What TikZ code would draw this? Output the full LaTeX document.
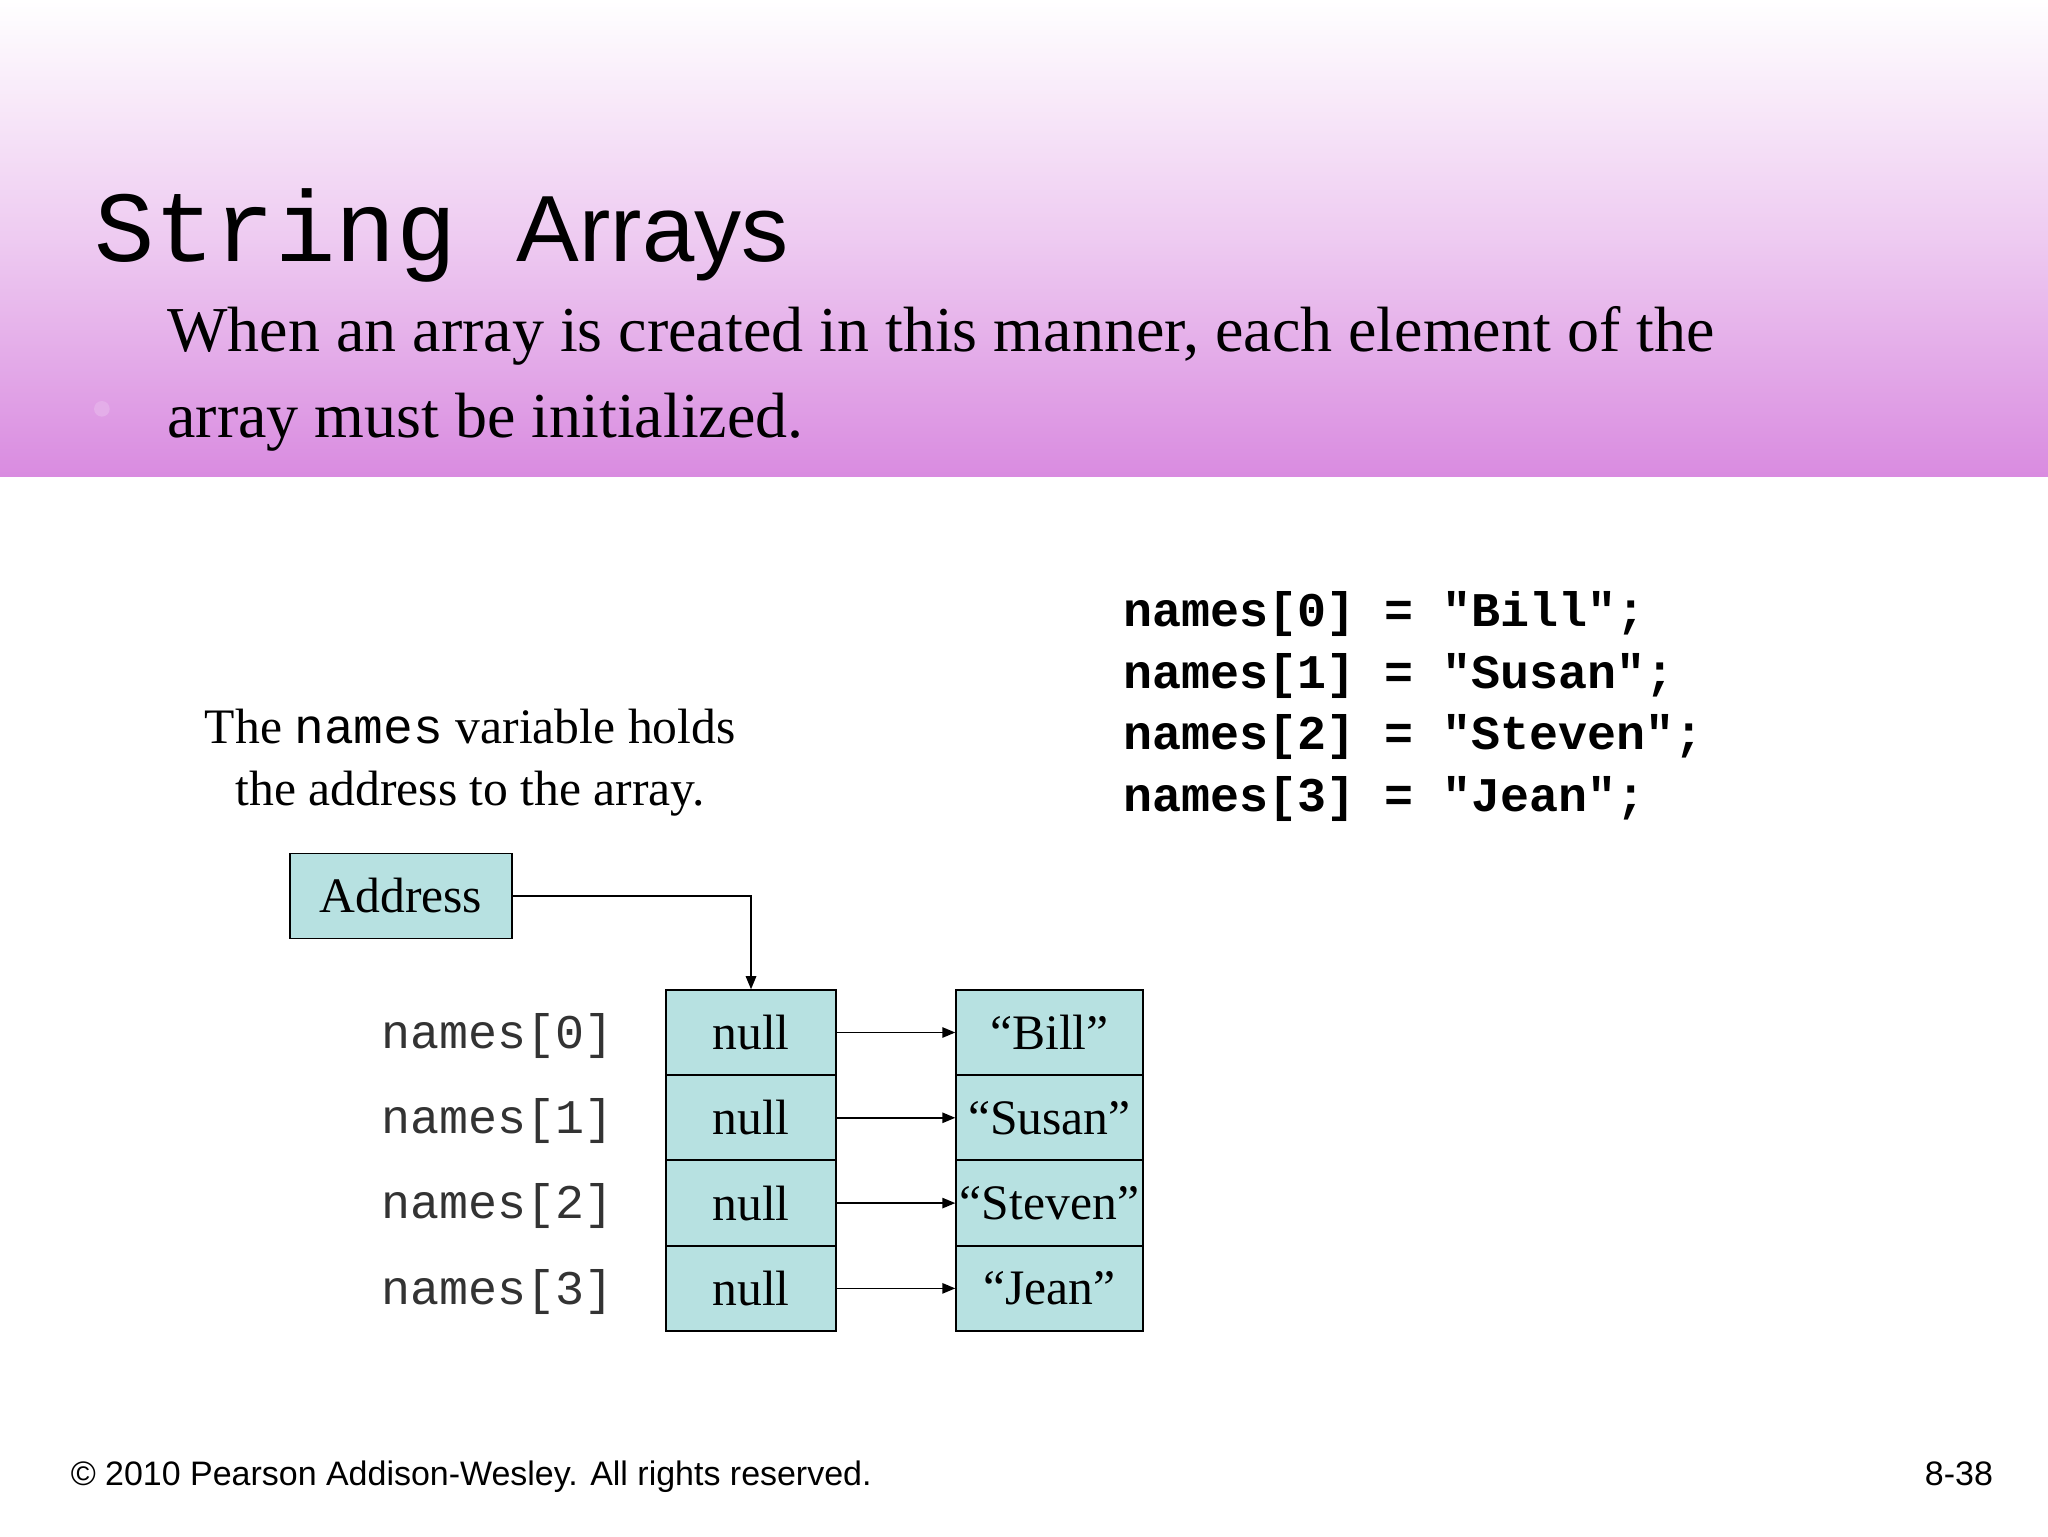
\documentclass[tikz,border=0pt]{standalone}
\usepackage{fontspec}
\setmainfont{Liberation Serif}
\setsansfont{Liberation Sans}
\setmonofont{Liberation Mono}
\usetikzlibrary{arrows.meta}
\definecolor{cellc}{HTML}{B7E1E1}
\definecolor{headc}{HTML}{D98BE0}
\tikzset{
  cell/.style={draw=black, line width=1.2pt, fill=cellc, minimum width=130pt, minimum height=65pt, inner sep=0pt, font=\fontsize{38}{40}\selectfont},
  scell/.style={cell, minimum width=143pt},
  lbl/.style={font=\ttfamily\fontsize{37}{40}\selectfont, text=black!80, anchor=east, inner sep=0pt},
  code/.style={font=\ttfamily\bfseries\fontsize{37}{40}\selectfont, anchor=base west, inner sep=0pt},
  conn/.style={line width=1.2pt, -{Triangle[length=10pt,width=8pt]}}
}
\begin{document}
\begin{tikzpicture}[x=1pt,y=-1pt]
\useasboundingbox (0,0) rectangle (1568,1176);
\fill[white] (0,0) rectangle (1568,1176);
\shade[top color=white, bottom color=headc, middle color=headc!45] (0,0) rectangle (1568,365);
\node[anchor=base west, inner sep=0pt] (title) at (72,200) {\ttfamily\fontsize{77}{80}\selectfont String\ \sffamily\fontsize{72}{80}\selectfont Arrays};
\fill[headc!70] (78,313) circle (6);
\node[anchor=base west, inner sep=0pt, align=left, font=\fontsize{49}{66}\selectfont] (body) at (128,335) {When an array is created in this manner, each element of the\\array must be initialized.};
\node[align=center, inner sep=0pt, font=\fontsize{38}{47}\selectfont] (note) at (360,584) {The {\ttfamily names} variable holds\\the address to the array.};
\node[code] (c0) at (860,480) {names[0] = "Bill";};
\node[code] (c1) at (860,527) {names[1] = "Susan";};
\node[code] (c2) at (860,574) {names[2] = "Steven";};
\node[code] (c3) at (860,621) {names[3] = "Jean";};
\node[cell, minimum width=170pt] (addr) at (307,686) {Address};
\foreach \i/\s in {0/``Bill'',1/``Susan'',2/``Steven'',3/``Jean''}{
  \node[cell] (n\i) at (575,{790.5+65.3*\i}) {null};
  \node[scell] (s\i) at (803.5,{790.5+65.3*\i}) {\s};
  \node[lbl] (l\i) at (470,{793+65.3*\i}) {names[\i]};
  \draw[conn] (n\i.east) -- (s\i.west);
}
\draw[conn] (addr.east) -| (n0.north);
\node[anchor=base west, inner sep=0pt, font=\sffamily\fontsize{26}{30}\selectfont] (foot) at (54,1137) {© 2010 Pearson Addison-Wesley. All rights reserved.};
\node[anchor=base east, inner sep=0pt, font=\sffamily\fontsize{26}{30}\selectfont] (pg) at (1526,1137) {8-38};
\end{tikzpicture}
\end{document}
